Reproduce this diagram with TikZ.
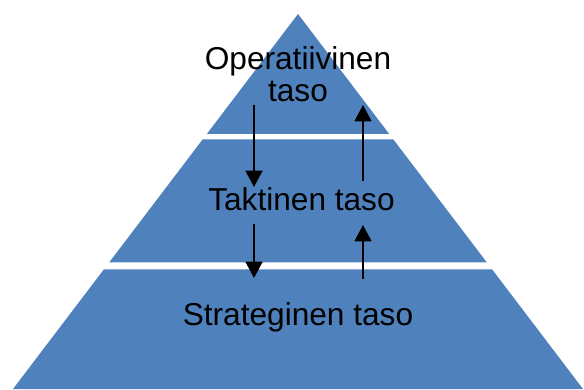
\documentclass[tikz,border=0pt]{standalone}
\usepackage{fontspec}
\setmainfont{Liberation Sans}
\usetikzlibrary{arrows.meta}
\definecolor{tierblue}{RGB}{79,129,189}

\begin{document}
\begin{tikzpicture}[x=0.03cm,y=0.03cm,
	tier/.style={fill=tierblue},
	tiertext/.style={font=\fontsize{27}{27.6}\selectfont,align=center,inner sep=0pt},
	flow/.style={line width=1.6pt,-{Triangle[length=14pt,width=14.5pt]}}]
	\useasboundingbox (0,0) rectangle (584,389);
	\coordinate (A) at (298,375);
	% top tier
	\coordinate (B1) at (206.8,255);
	\coordinate (C1) at (389.2,255);
	% middle tier
	\coordinate (B2) at (202.6,249.5);
	\coordinate (C2) at (393.4,249.5);
	\coordinate (D2) at (109.1,126.5);
	\coordinate (E2) at (486.9,126.5);
	% bottom tier
	\coordinate (B3) at (103.8,119.5);
	\coordinate (C3) at (492.2,119.5);
	\coordinate (D3) at (13,0);
	\coordinate (E3) at (583,0);
	\fill[tier] (A) -- (C1) -- (B1) -- cycle;
	\fill[tier] (B2) -- (C2) -- (E2) -- (D2) -- cycle;
	\fill[tier] (B3) -- (C3) -- (E3) -- (D3) -- cycle;

	\node[tiertext] (oper) at (298,315) {Operatiivinen\\taso};
	\node[tiertext,anchor=base] (takt) at (301.5,178) {Taktinen taso};
	\node[tiertext,anchor=base] (strat) at (298,63) {Strateginen taso};

	\coordinate (d1) at (254,284);
	\coordinate (d2) at (254,202);
	\coordinate (d3) at (254,165);
	\coordinate (d4) at (254,111);
	\coordinate (u1) at (363,110);
	\coordinate (u2) at (363,164);
	\coordinate (u3) at (363,208);
	\coordinate (u4) at (363,284);
	\draw[flow] (d1) -- (d2);
	\draw[flow] (d3) -- (d4);
	\draw[flow] (u1) -- (u2);
	\draw[flow] (u3) -- (u4);
\end{tikzpicture}
\end{document}
